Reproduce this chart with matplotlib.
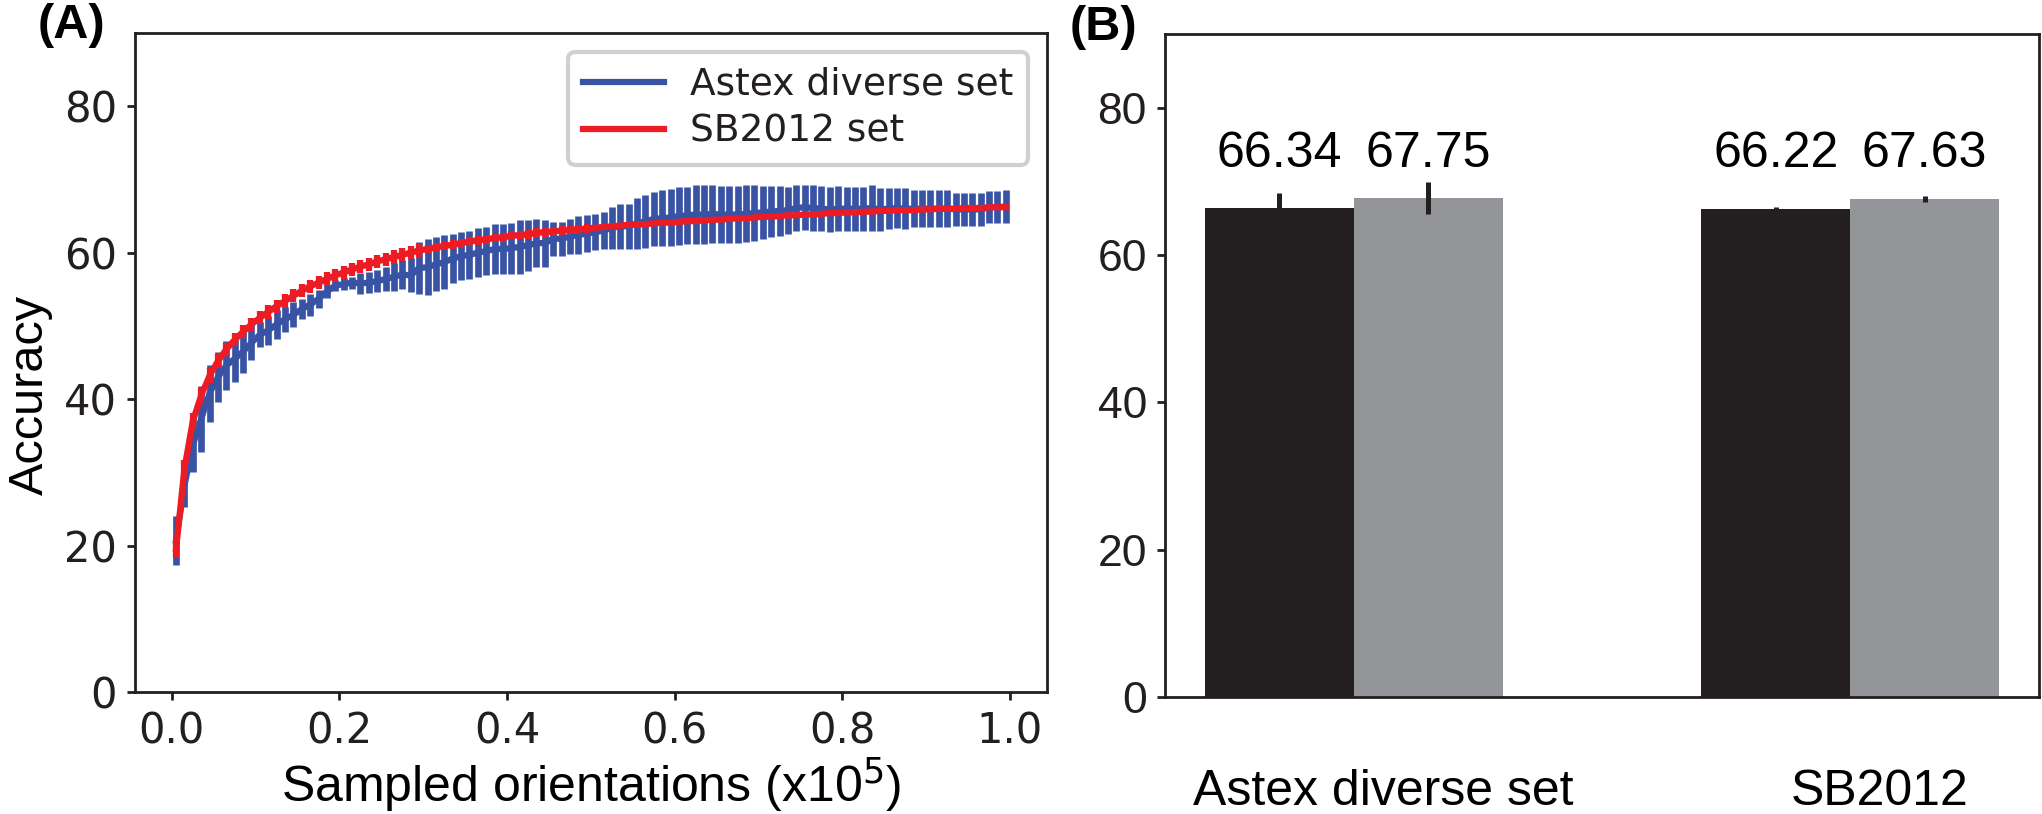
import numpy as np
import matplotlib
matplotlib.use("Agg")
import matplotlib.pyplot as plt

BLUE = "#3953a4"
RED = "#ed1c24"
INK = "#231f20"
GREY = "#939598"

# (A) accuracy vs sampled orientations (x1e5), 100 samples
X = np.arange(100) * 0.01 + 0.005
ASTEX = [20.7, 28.2, 33.7, 37.3, 40.8, 43.0, 44.6, 45.5, 46.5, 47.7,
         48.8, 49.4, 50.2, 50.9, 51.5, 52.3, 52.9, 53.7, 54.7, 55.5,
         55.7, 55.9, 55.8, 55.9, 56.1, 56.4, 56.7, 57.0, 56.9, 57.9,
         58.0, 58.4, 58.7, 59.2, 59.5, 59.7, 60.0, 60.2, 60.5, 60.5,
         60.6, 60.8, 61.0, 61.3, 61.3, 61.9, 61.9, 62.2, 62.4, 62.6,
         62.8, 63.0, 63.4, 63.6, 63.6, 64.0, 64.3, 64.6, 64.7, 64.8,
         65.0, 65.1, 65.2, 65.2, 65.3, 65.2, 65.2, 65.2, 65.3, 65.4,
         65.5, 65.6, 65.7, 65.8, 66.1, 66.2, 66.1, 66.0, 65.9, 66.0,
         66.0, 66.0, 66.0, 66.1, 65.9, 66.0, 66.1, 66.0, 66.0, 66.0,
         66.0, 66.0, 66.0, 65.9, 65.9, 65.9, 65.9, 66.2, 66.2, 66.3]
ASTEX_ERR = [3.4, 2.9, 3.7, 4.5, 3.9, 3.4, 3.3, 3.2, 2.9, 2.4,
             1.7, 2.0, 2.0, 1.7, 1.7, 1.4, 1.5, 1.2, 0.9, 0.7,
             0.8, 0.8, 1.4, 1.4, 1.5, 1.6, 1.9, 2.0, 2.3, 3.5,
             3.8, 3.7, 3.7, 3.4, 3.3, 3.3, 3.3, 3.3, 3.4, 3.4,
             3.5, 3.7, 3.5, 3.3, 3.2, 2.3, 2.3, 2.4, 2.6, 2.5,
             2.5, 2.5, 2.9, 3.1, 3.1, 3.5, 3.6, 3.7, 3.8, 3.9,
             3.9, 3.9, 4.0, 4.0, 4.0, 3.9, 3.9, 3.9, 3.9, 3.8,
             3.6, 3.5, 3.4, 3.2, 3.1, 3.1, 3.1, 3.1, 3.1, 3.1,
             3.0, 3.0, 3.0, 3.1, 2.9, 2.8, 2.7, 2.8, 2.5, 2.5,
             2.5, 2.5, 2.5, 2.3, 2.3, 2.3, 2.3, 2.2, 2.2, 2.2]
SB = [19.5, 30.5, 37.0, 40.5, 43.2, 45.2, 46.8, 48.1, 49.2, 50.2,
      51.1, 51.9, 52.7, 53.4, 54.1, 54.8, 55.4, 55.9, 56.4, 56.9,
      57.3, 57.7, 58.1, 58.4, 58.8, 59.1, 59.4, 59.7, 60.0, 60.3,
      60.5, 60.7, 60.9, 61.1, 61.3, 61.5, 61.7, 61.8, 62.0, 62.1,
      62.3, 62.4, 62.5, 62.7, 62.8, 62.9, 63.0, 63.1, 63.2, 63.3,
      63.4, 63.5, 63.6, 63.7, 63.8, 63.8, 63.9, 64.0, 64.1, 64.1,
      64.2, 64.3, 64.3, 64.4, 64.5, 64.5, 64.6, 64.7, 64.7, 64.8,
      64.9, 64.9, 65.0, 65.1, 65.1, 65.2, 65.2, 65.3, 65.4, 65.4,
      65.5, 65.5, 65.6, 65.6, 65.7, 65.7, 65.8, 65.8, 65.8, 65.9,
      65.9, 66.0, 66.0, 66.0, 66.1, 66.1, 66.1, 66.2, 66.2, 66.2]
SB_ERR = [1.2, 1.2, 1.1, 1.0, 1.0, 0.9, 0.9, 0.9, 0.9, 0.9,
          0.9, 0.9, 0.9, 0.9, 0.9, 0.9, 0.9, 0.9, 0.9, 0.9,
          0.9, 0.9, 0.9, 0.9, 0.9, 0.9, 0.9, 0.9, 0.9, 0.9,
          0.6, 0.6, 0.6, 0.6, 0.6, 0.6, 0.6, 0.6, 0.6, 0.6,
          0.6, 0.6, 0.6, 0.6, 0.6, 0.6, 0.6, 0.6, 0.6, 0.6,
          0.3, 0.3, 0.3, 0.3, 0.3, 0.3, 0.3, 0.3, 0.3, 0.3,
          0.3, 0.3, 0.3, 0.3, 0.3, 0.3, 0.3, 0.3, 0.3, 0.3,
          0.3, 0.3, 0.3, 0.3, 0.3, 0.3, 0.3, 0.3, 0.3, 0.3,
          0.3, 0.3, 0.3, 0.3, 0.3, 0.3, 0.3, 0.3, 0.3, 0.3,
          0.3, 0.3, 0.3, 0.3, 0.3, 0.3, 0.3, 0.3, 0.3, 0.3]

# (B) final accuracy per benchmark
GROUPS = ["Astex diverse set", "SB2012"]
BLACK = [66.34, 66.22]
BLACK_ERR = [2.1, 0.35]
GREYV = [67.75, 67.63]
GREY_ERR = [2.2, 0.45]

fig = plt.figure(figsize=(20.42, 8.14), dpi=100)
axA = fig.add_axes([0.0661, 0.1499, 0.4466, 0.8096])
axB = fig.add_axes([0.5705, 0.1437, 0.4280, 0.8145])

for ax in (axA, axB):
    for s in ax.spines.values():
        s.set_linewidth(2.0); s.set_color(INK)
    ax.tick_params(width=2.0, length=6, color=INK, pad=7)

# ---- panel A
axA.errorbar(X, ASTEX, yerr=ASTEX_ERR, fmt="none", ecolor=BLUE, elinewidth=4.8, zorder=2)
axA.plot(X, ASTEX, color=BLUE, lw=4.5, zorder=2.5, label="Astex diverse set")
axA.errorbar(X, SB, yerr=SB_ERR, fmt="none", ecolor=RED, elinewidth=4.5, zorder=3)
axA.plot(X, SB, color=RED, lw=4.5, zorder=3.5, label="SB2012 set")
axA.set_xlim(-0.044, 1.044); axA.set_ylim(0, 90)
axA.set_xticks([0, 0.2, 0.4, 0.6, 0.8, 1.0]); axA.set_yticks([0, 20, 40, 60, 80])
axA.tick_params(labelsize=30, labelcolor=INK)
axA.set_xlabel("Sampled orientations (x10$^5$)", fontsize=36, family="Liberation Sans", labelpad=2)
axA.set_ylabel("Accuracy", fontsize=35, family="Liberation Sans")
axA.yaxis.set_label_coords(-0.09, 0.45)
leg = axA.legend(loc="upper right", fontsize=27, labelspacing=0.3, handlelength=2.15,
                 handletextpad=0.7, borderpad=0.4, framealpha=1)
leg.get_frame().set_edgecolor("#d0d0d0"); leg.get_frame().set_linewidth(3)
for t in leg.get_texts(): t.set_color(INK)

# ---- panel B
w = 0.3
xi = np.arange(len(GROUPS))
axB.bar(xi - w/2, BLACK, w, color=INK, zorder=2)
axB.bar(xi + w/2, GREYV, w, color=GREY, zorder=2)
axB.errorbar(xi - w/2, BLACK, yerr=BLACK_ERR, fmt="none", ecolor=INK, elinewidth=3.6, zorder=3)
axB.errorbar(xi + w/2, GREYV, yerr=GREY_ERR, fmt="none", ecolor=INK, elinewidth=3.6, zorder=3)
for xs, vals in ((xi - w/2, BLACK), (xi + w/2, GREYV)):
    for x, v in zip(xs, vals):
        axB.text(x, 71.9, f"{v:.2f}", ha="center", va="baseline", fontsize=36,
                 family="Liberation Sans", color="black")
axB.set_ylim(0, 90)
axB.set_yticks([0, 20, 40, 60, 80])
axB.set_xticks(xi + 0.06)
axB.set_xticklabels(GROUPS, fontsize=36, family="Liberation Sans", color="black")
axB.tick_params(axis="x", length=0, pad=52)
axB.tick_params(axis="y", labelsize=32)
for t in axB.get_yticklabels(): t.set_family("Liberation Sans"); t.set_color(INK)

fig.text(0.0186, 0.953, "(A)", fontsize=35, fontweight="bold", family="Liberation Sans", va="baseline")
fig.text(0.524, 0.951, "(B)", fontsize=35, fontweight="bold", family="Liberation Sans", va="baseline")

fig.savefig("out.png", dpi=100)
